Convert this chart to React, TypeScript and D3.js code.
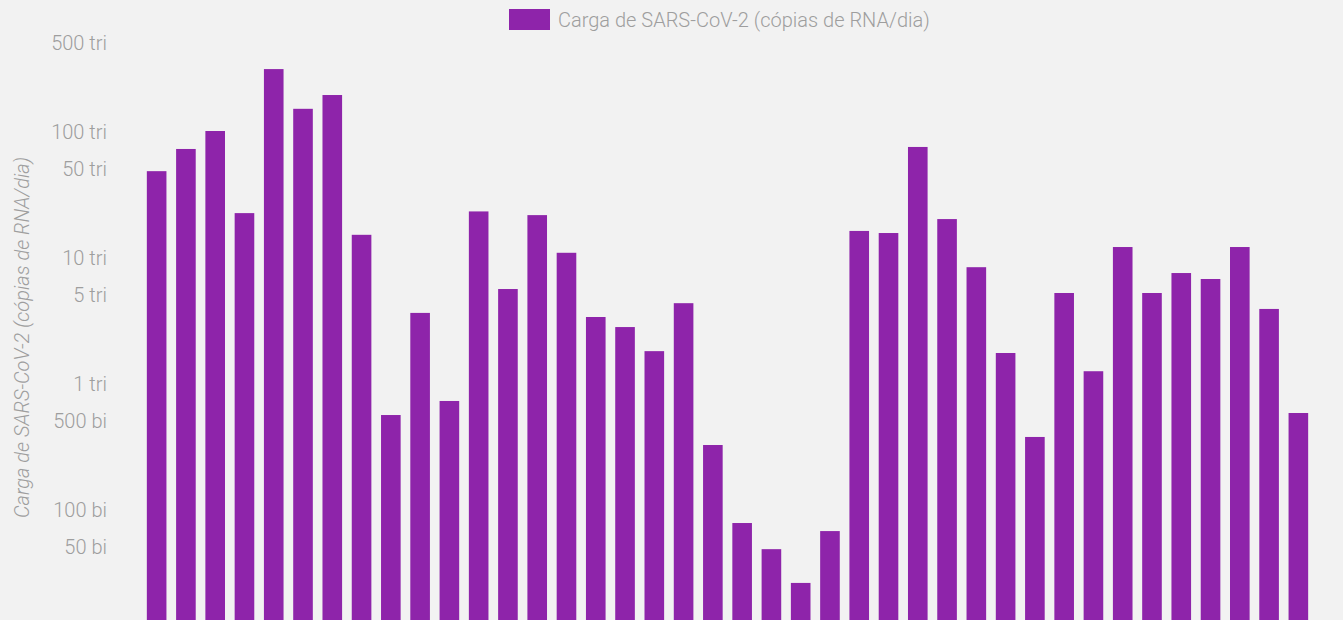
import React, { useEffect, useRef } from "react";
import * as d3 from "d3";

const seriesName = "Carga de SARS-CoV-2 (cópias de RNA/dia)";

// semanas (eixo x fora da área visível)
const categories = Array.from({ length: 40 }, (_, i) => `S${i + 1}`);

// cópias de RNA/dia, em trilhões
const loadTri = [
  48, 72, 100, 22.3, 310, 150, 193, 15, 0.557, 3.6,
  0.72, 23, 5.57, 21.5, 10.8, 3.34, 2.78, 1.79, 4.3, 0.322,
  0.0774, 0.048, 0.0259, 0.0668, 16.1, 15.5, 74.7, 20, 8.3, 1.73,
  0.373, 5.18, 1.24, 12, 5.18, 7.46, 6.69, 12, 3.87, 0.578,
];

const tickValues = [5e14, 1e14, 5e13, 1e13, 5e12, 1e12, 5e11, 1e11, 5e10];
const tickLabels = ["500 tri", "100 tri", "50 tri", "10 tri", "5 tri", "1 tri", "500 bi", "100 bi", "50 bi"];

const App = () => {
  const ref = useRef<SVGSVGElement>(null);

  useEffect(() => {
    document.body.style.margin = "0";
    const width = 1343;
    const height = 620;
    const font = "Roboto, sans-serif";
    const textColor = "#9e9e9e";
    const barColor = "#8e24aa";

    const svg = d3.select(ref.current).attr("width", width).attr("height", height);
    svg.selectAll("*").remove();

    svg.append("rect").attr("width", width).attr("height", height).attr("fill", "#f2f2f2");

    const data = categories.map((c, i) => ({ c, v: loadTri[i] * 1e12 }));

    const x = d3.scaleBand().domain(categories).range([142, 1313]).paddingInner(0.33).paddingOuter(0.165);
    const y = d3.scaleLog().domain([1e10, 1e15]).range([635, 5]);

    svg.append("g")
      .selectAll("rect")
      .data(data)
      .join("rect")
      .attr("x", (d) => x(d.c)!)
      .attr("y", (d) => y(d.v))
      .attr("width", x.bandwidth())
      .attr("height", (d) => y.range()[0] - y(d.v))
      .attr("fill", barColor);

    const yAxis = svg.append("g")
      .attr("transform", "translate(107,0)")
      .call(d3.axisLeft(y).tickValues(tickValues).tickSize(0).tickPadding(0).tickFormat((_, i) => tickLabels[i]));
    yAxis.select(".domain").remove();
    yAxis.selectAll("text")
      .attr("fill", textColor)
      .attr("font-family", font)
      .attr("font-weight", 300)
      .attr("font-size", 20)
      .attr("dy", "0.35em");

    svg.append("text")
      .attr("transform", "translate(29,337.5) rotate(-90)")
      .attr("text-anchor", "middle")
      .attr("font-family", font)
      .attr("font-weight", 300)
      .attr("font-style", "italic")
      .attr("font-size", 20)
      .attr("fill", textColor)
      .text(seriesName);

    const legend = svg.append("g");
    legend.append("rect").attr("x", 509).attr("y", 9).attr("width", 41).attr("height", 21).attr("fill", barColor);
    legend.append("text")
      .attr("x", 558)
      .attr("y", 19.5)
      .attr("dy", "0.35em")
      .attr("font-family", font)
      .attr("font-weight", 300)
      .attr("font-size", 20)
      .attr("fill", textColor)
      .text(seriesName);
  }, []);

  return <svg ref={ref} style={{ display: "block" }}></svg>;
};

export default App;
